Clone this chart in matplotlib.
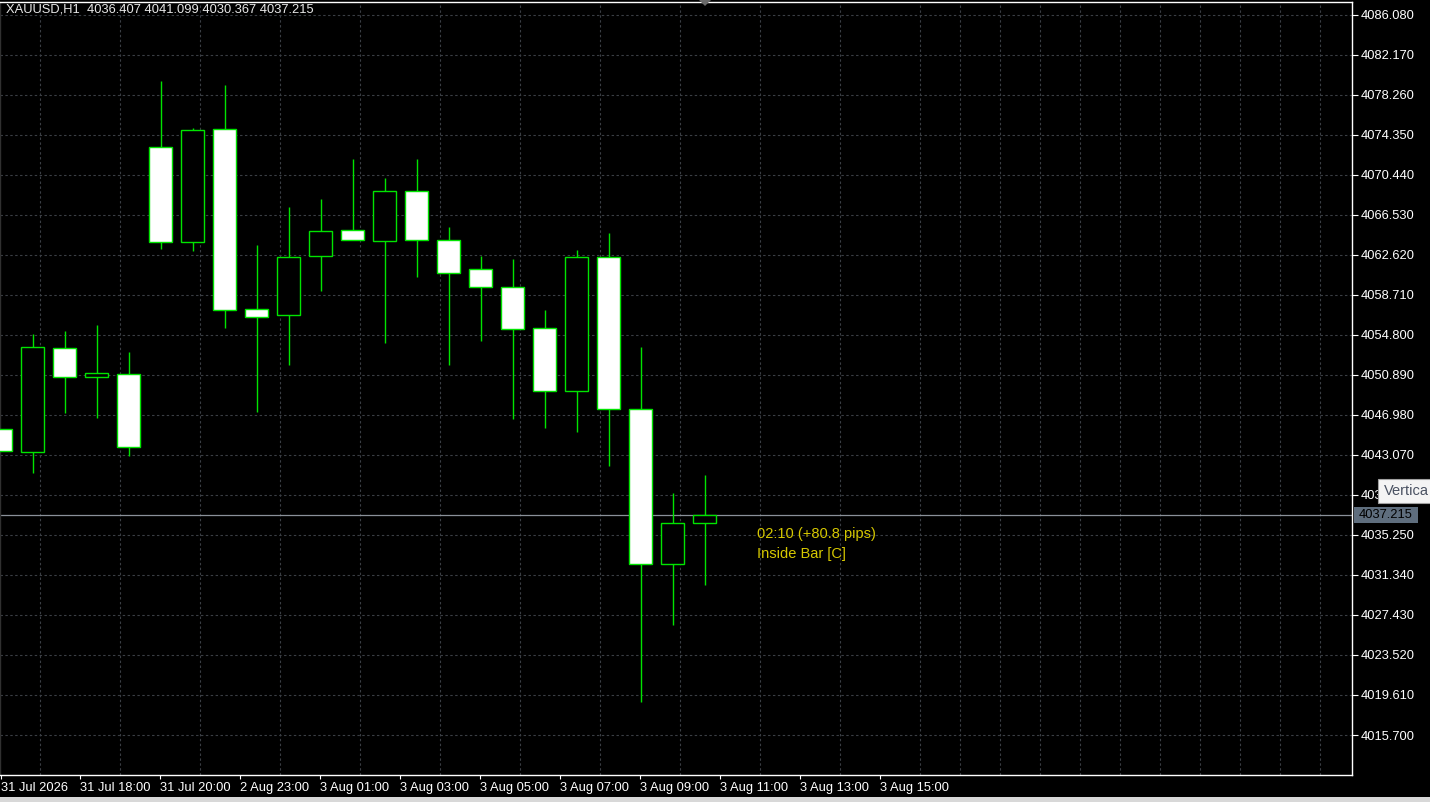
import matplotlib
matplotlib.use("Agg")
import matplotlib.pyplot as plt
from matplotlib.patches import Rectangle, Polygon
from matplotlib.ticker import FixedLocator

# ---------------- data ----------------
opens  = [4045.58, 4043.33, 4053.50, 4050.67, 4050.96, 4073.15, 4063.92, 4074.91,
          4057.31, 4056.73, 4062.49, 4065.03, 4063.96, 4068.85, 4064.06, 4061.22,
          4059.46, 4055.46, 4049.30, 4062.40, 4047.54, 4032.39, 4036.407]
highs  = [4045.58, 4054.87, 4055.19, 4055.78, 4053.11, 4079.63, 4075.03, 4079.24,
          4063.60, 4067.31, 4068.09, 4072.00, 4070.15, 4072.00, 4065.36, 4062.52,
          4062.23, 4057.24, 4063.11, 4064.77, 4053.63, 4039.33, 4041.099]
lows   = [4043.43, 4041.34, 4047.15, 4046.72, 4043.00, 4063.21, 4063.01, 4055.51,
          4047.30, 4051.90, 4059.10, 4064.06, 4054.05, 4060.50, 4051.90, 4054.24,
          4046.62, 4045.74, 4045.35, 4042.02, 4018.95, 4026.48, 4030.367]
closes = [4043.43, 4053.60, 4050.67, 4051.06, 4043.82, 4063.92, 4074.81, 4057.21,
          4056.53, 4062.42, 4064.97, 4064.06, 4068.85, 4064.06, 4060.83, 4059.46,
          4055.36, 4049.30, 4062.40, 4047.54, 4032.39, 4036.39, 4037.215]

price_ticks = [4086.080, 4082.170, 4078.260, 4074.350, 4070.440, 4066.530, 4062.620,
               4058.710, 4054.800, 4050.890, 4046.980, 4043.070, 4039.160, 4035.250,
               4031.340, 4027.430, 4023.520, 4019.610, 4015.700]
time_labels = ["31 Jul 2026", "31 Jul 18:00", "31 Jul 20:00", "2 Aug 23:00", "3 Aug 01:00",
               "3 Aug 03:00", "3 Aug 05:00", "3 Aug 07:00", "3 Aug 09:00", "3 Aug 11:00",
               "3 Aug 13:00", "3 Aug 15:00"]
header = "XAUUSD,H1  4036.407 4041.099 4030.367 4037.215"
bid = 4037.215
note_lines = ["02:10 (+80.8 pips)", "Inside Bar [C]"]

# ---------------- layout ----------------
W, H = 1430, 802
BAR_PX = 32.0          # pixels per bar
PX_PER_PRICE = 40 / 3.91
fig = plt.figure(figsize=(W / 100, H / 100), dpi=100)
fig.patch.set_facecolor("black")

ax_l, ax_r, ax_t, ax_b = 0, 1352, 2, 775
ax = fig.add_axes([ax_l / W, 1 - ax_b / H, (ax_r - ax_l) / W, (ax_b - ax_t) / H])
ax.set_facecolor("black")

def px_to_x(px):
    return (px - 0.5) / BAR_PX

top_price = price_ticks[0] + (15 - ax_t) / PX_PER_PRICE
bot_price = price_ticks[0] - (ax_b - 15) / PX_PER_PRICE
ax.set_ylim(bot_price, top_price)
ax.set_xlim(px_to_x(ax_l), px_to_x(ax_r))

FONT = "Liberation Sans"
GREEN = "#00e400"
GRID = "#3a3e44"

ax.yaxis.set_major_locator(FixedLocator(price_ticks))
ax.set_yticklabels([f"{p:.3f}" for p in price_ticks])
ax.yaxis.tick_right()
ax.xaxis.set_major_locator(FixedLocator([px_to_x(max(80 * i, 0.6)) for i in range(len(time_labels))]))
ax.set_xticklabels(time_labels)
ax.xaxis.set_minor_locator(FixedLocator([px_to_x(40 * i) for i in range(1, 34)]))
ax.grid(which="minor", axis="x", color=GRID, lw=0.8, linestyle=(0, (2.2, 2.2)))
ax.grid(which="major", axis="y", color=GRID, lw=0.8, linestyle=(0, (2.2, 2.2)))
ax.tick_params(axis="x", which="minor", length=0)
ax.tick_params(axis="x", which="major", direction="out", length=3, color="white",
               labelcolor="white", labelsize=9.3, pad=2)
ax.tick_params(axis="y", which="major", direction="out", length=4, color="white",
               labelcolor="white", labelsize=9.3, pad=2)
for lbl in ax.get_xticklabels():
    lbl.set_ha("left")
    lbl.set_fontfamily(FONT)
for lbl in ax.get_yticklabels():
    lbl.set_fontfamily(FONT)
for s in ax.spines.values():
    s.set_color("white")
    s.set_linewidth(1.0)
ax.spines["left"].set_color("#303030")

# candles
body_w = 22.5 / BAR_PX
for i, (o, h, l, c) in enumerate(zip(opens, highs, lows, closes)):
    x = i
    ax.plot([x, x], [l, h], color=GREEN, lw=1.0, zorder=3, solid_capstyle="butt")
    face = "black" if c >= o else "white"
    lo, hi = min(o, c), max(o, c)
    ax.add_patch(Rectangle((x - body_w / 2, lo), body_w, max(hi - lo, 0.05),
                           facecolor=face, edgecolor=GREEN, lw=1.0, zorder=4))

# bid line
ax.axhline(bid, color="#8a9099", lw=0.9, zorder=2)

# annotation text
fig.text(757 / W, 1 - 534 / H, note_lines[0], color="#d6c800", fontsize=10.5,
         family=FONT, va="center", ha="left")
fig.text(757 / W, 1 - 554 / H, note_lines[1], color="#d6c800", fontsize=10.5,
         family=FONT, va="center", ha="left")

# header
fig.text(6 / W, 1 - 10 / H, header, color="#e8e8e8", fontsize=9.3, family=FONT,
         va="center", ha="left")

# price tag for bid
fig.patches.append(Rectangle((1354 / W, 1 - 523 / H), 64 / W, 16 / H,
                             transform=fig.transFigure, facecolor="#5f6e7e",
                             edgecolor="none", zorder=5))
fig.text(1386 / W, 1 - 515.5 / H, f"{bid:.3f}", color="black", fontsize=9.3,
         family=FONT, va="center", ha="center", zorder=6)

# tooltip
fig.patches.append(Rectangle((1378 / W, 1 - 503 / H), 60 / W, 24 / H,
                             transform=fig.transFigure, facecolor="#f4f4f4",
                             edgecolor="#a0a0a0", lw=0.8, zorder=5))
fig.text(1384 / W, 1 - 491 / H, "Vertica", color="#4a5262", fontsize=10.5,
         family=FONT, va="center", ha="left", zorder=6)

# shift marker at top
fig.patches.append(Polygon([[699 / W, 1 - 0 / H], [711 / W, 1 - 0 / H], [705 / W, 1 - 6 / H]],
                           closed=True, transform=fig.transFigure,
                           facecolor="#6a6a6a", edgecolor="none", zorder=5))

# bottom status strip
fig.patches.append(Rectangle((0, 0), 1, 5 / H, transform=fig.transFigure,
                             facecolor="#d8d8d8", edgecolor="none", zorder=5))

fig.savefig("out.png", dpi=100, facecolor="black")
